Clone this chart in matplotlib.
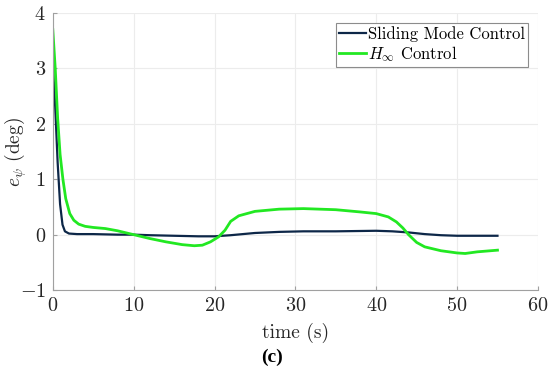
import matplotlib
matplotlib.use("Agg")
import matplotlib.pyplot as plt

plt.rcParams['font.family'] = 'serif'
plt.rcParams['font.serif'] = ['cmr10']
plt.rcParams['mathtext.fontset'] = 'cm'
plt.rcParams['axes.formatter.use_mathtext'] = True

# Sliding Mode Control
t_smc = [0.0, 0.3, 0.6, 0.9, 1.2, 1.5, 2.0, 3, 5, 8, 10, 12, 15, 18, 20, 22, 25, 28, 31, 35, 40, 42, 44, 46, 48, 50, 52, 55]
e_smc = [3.1, 2.3, 1.3, 0.55, 0.18, 0.06, 0.02, 0.01, 0.01, 0.0, 0.0, -0.01, -0.02, -0.03, -0.03, -0.01, 0.03, 0.05, 0.06, 0.06, 0.07, 0.06, 0.04, 0.01, -0.01, -0.02, -0.02, -0.02]

# H-infinity Control
t_hinf = [0.0, 0.3, 0.6, 0.9, 1.25, 1.6, 2.1, 2.6, 3.2, 4, 5, 6.5, 8, 10, 12, 14, 16, 17.5, 18.5, 19.5, 20.5, 21.3, 22, 23, 25, 28, 31, 35, 38, 40, 41.5, 42.5, 43.3, 44, 45, 46, 48, 50, 51, 52.5, 55]
e_hinf = [3.7, 3.0, 2.1, 1.45, 1.0, 0.65, 0.38, 0.26, 0.19, 0.15, 0.13, 0.11, 0.07, 0.0, -0.07, -0.13, -0.18, -0.2, -0.19, -0.13, -0.04, 0.08, 0.24, 0.34, 0.42, 0.46, 0.47, 0.45, 0.41, 0.38, 0.32, 0.23, 0.12, 0.0, -0.14, -0.22, -0.29, -0.33, -0.34, -0.31, -0.28]

fig = plt.figure(figsize=(5.5, 3.7), dpi=100)
ax = fig.add_axes([0.096, 0.216, 0.882, 0.749])

ax.plot(t_smc, e_smc, color='#0d2748', lw=1.6, label='Sliding Mode Control')
ax.plot(t_hinf, e_hinf, color='#22e822', lw=2.0, label=r'$H_\infty$ Control')

ax.set_xlim(0, 60)
ax.set_ylim(-1, 4)
ax.set_xticks([0, 10, 20, 30, 40, 50, 60])
ax.set_yticks([-1, 0, 1, 2, 3, 4])
ax.grid(True, color='#ececec', lw=0.8)
ax.set_axisbelow(True)
for s in ['top', 'right']:
    ax.spines[s].set_visible(False)
for s in ['left', 'bottom']:
    ax.spines[s].set_color('#a0a0a0')
ax.tick_params(direction='in', length=3, pad=5, colors='#a0a0a0', labelcolor='#262626', labelsize=14.5)
ax.set_xlabel('time (s)', fontsize=14, color='#262626')
ax.set_ylabel(r'$e_\psi$ (deg)', fontsize=14, color='#262626')
ax.yaxis.set_label_coords(-0.05, 0.5)
ax.xaxis.set_label_coords(0.5, -0.118)

leg = ax.legend(loc='upper right', fontsize=12, handlelength=1.6, handletextpad=0.1,
                borderpad=0.2, labelspacing=0.1, fancybox=False, framealpha=1,
                borderaxespad=0.6)
leg.get_frame().set_edgecolor('#8c8c8c')
leg.get_frame().set_linewidth(0.8)

fig.text(0.494, 0.035, '(c)', ha='center', va='center', fontsize=14,
         fontweight='bold', family='Liberation Serif', color='black')

fig.savefig('out.png', dpi=100)
